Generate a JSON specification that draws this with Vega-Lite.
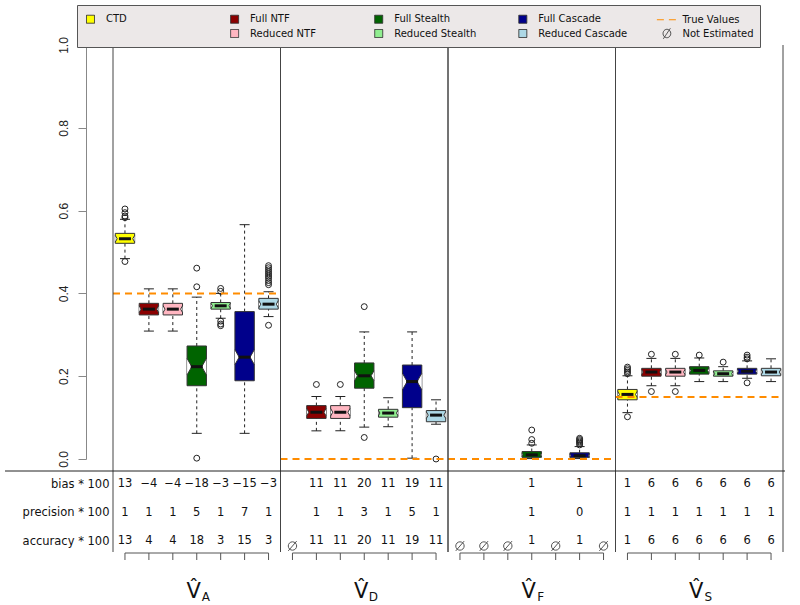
{
"$schema": "https://vega.github.io/schema/vega-lite/v6.json",
"width": 714,
"height": 605,
"autosize": "none",
"padding": {"left": 86, "top": 0, "right": 0, "bottom": 0},
"config": {"view": {"stroke": null}, "font": "DejaVu Sans"},
"datasets": {
"legend": [{"method": "CTD"}, {"method": "Full NTF"}, {"method": "Full Stealth"}, {"method": "Full Cascade"}, {"method": "True Values"}, {"method": " "}, {"method": "Reduced NTF"}, {"method": "Reduced Stealth"}, {"method": "Reduced Cascade"}, {"method": "Not Estimated"}],
"boxes": [
{"key": "A CTD", "method": "CTD", "lo": 0.484, "q1": 0.521, "med": 0.532, "q3": 0.545, "hi": 0.579, "notch": 0.008},
{"key": "A Full NTF", "method": "Full NTF", "lo": 0.309, "q1": 0.348, "med": 0.362, "q3": 0.376, "hi": 0.411, "notch": 0.008},
{"key": "A Reduced NTF", "method": "Reduced NTF", "lo": 0.309, "q1": 0.348, "med": 0.362, "q3": 0.376, "hi": 0.411, "notch": 0.008},
{"key": "A Full Stealth", "method": "Full Stealth", "lo": 0.062, "q1": 0.177, "med": 0.223, "q3": 0.273, "hi": 0.391, "notch": 0.02},
{"key": "A Reduced Stealth", "method": "Reduced Stealth", "lo": 0.34, "q1": 0.362, "med": 0.37, "q3": 0.378, "hi": 0.4, "notch": 0.006},
{"key": "A Full Cascade", "method": "Full Cascade", "lo": 0.062, "q1": 0.189, "med": 0.246, "q3": 0.356, "hi": 0.566, "notch": 0.018},
{"key": "A Reduced Cascade", "method": "Reduced Cascade", "lo": 0.344, "q1": 0.362, "med": 0.374, "q3": 0.388, "hi": 0.404, "notch": 0.008},
{"key": "D Full NTF", "method": "Full NTF", "lo": 0.068, "q1": 0.098, "med": 0.113, "q3": 0.129, "hi": 0.151, "notch": 0.009},
{"key": "D Reduced NTF", "method": "Reduced NTF", "lo": 0.068, "q1": 0.098, "med": 0.113, "q3": 0.129, "hi": 0.151, "notch": 0.009},
{"key": "D Full Stealth", "method": "Full Stealth", "lo": 0.077, "q1": 0.171, "med": 0.201, "q3": 0.232, "hi": 0.307, "notch": 0.012},
{"key": "D Reduced Stealth", "method": "Reduced Stealth", "lo": 0.078, "q1": 0.101, "med": 0.111, "q3": 0.12, "hi": 0.148, "notch": 0.006},
{"key": "D Full Cascade", "method": "Full Cascade", "lo": 0.002, "q1": 0.124, "med": 0.187, "q3": 0.227, "hi": 0.307, "notch": 0.02},
{"key": "D Reduced Cascade", "method": "Reduced Cascade", "lo": 0.084, "q1": 0.09, "med": 0.106, "q3": 0.117, "hi": 0.143, "notch": 0.008},
{"key": "F Full Stealth", "method": "Full Stealth", "lo": 0.001, "q1": 0.004, "med": 0.01, "q3": 0.018, "hi": 0.034, "notch": 0.004},
{"key": "F Full Cascade", "method": "Full Cascade", "lo": 0.001, "q1": 0.004, "med": 0.008, "q3": 0.015, "hi": 0.03, "notch": 0.004},
{"key": "S CTD", "method": "CTD", "lo": 0.112, "q1": 0.143, "med": 0.156, "q3": 0.168, "hi": 0.201, "notch": 0.007},
{"key": "S Full NTF", "method": "Full NTF", "lo": 0.177, "q1": 0.2, "med": 0.21, "q3": 0.219, "hi": 0.243, "notch": 0.006},
{"key": "S Reduced NTF", "method": "Reduced NTF", "lo": 0.177, "q1": 0.2, "med": 0.21, "q3": 0.219, "hi": 0.243, "notch": 0.006},
{"key": "S Full Stealth", "method": "Full Stealth", "lo": 0.187, "q1": 0.205, "med": 0.214, "q3": 0.223, "hi": 0.244, "notch": 0.006},
{"key": "S Reduced Stealth", "method": "Reduced Stealth", "lo": 0.187, "q1": 0.2, "med": 0.206, "q3": 0.213, "hi": 0.223, "notch": 0.005},
{"key": "S Full Cascade", "method": "Full Cascade", "lo": 0.195, "q1": 0.205, "med": 0.212, "q3": 0.219, "hi": 0.237, "notch": 0.005},
{"key": "S Reduced Cascade", "method": "Reduced Cascade", "lo": 0.187, "q1": 0.201, "med": 0.21, "q3": 0.219, "hi": 0.242, "notch": 0.006}
],
"outliers": [
{"key": "A CTD", "val": 0.604}, {"key": "A CTD", "val": 0.595}, {"key": "A CTD", "val": 0.587}, {"key": "A CTD", "val": 0.583}, {"key": "A CTD", "val": 0.477},
{"key": "A Full Stealth", "val": 0.461}, {"key": "A Full Stealth", "val": 0.416}, {"key": "A Full Stealth", "val": 0.002},
{"key": "A Reduced Stealth", "val": 0.405}, {"key": "A Reduced Stealth", "val": 0.412}, {"key": "A Reduced Stealth", "val": 0.333}, {"key": "A Reduced Stealth", "val": 0.326}, {"key": "A Reduced Stealth", "val": 0.322},
{"key": "A Reduced Cascade", "val": 0.421}, {"key": "A Reduced Cascade", "val": 0.426}, {"key": "A Reduced Cascade", "val": 0.431}, {"key": "A Reduced Cascade", "val": 0.437}, {"key": "A Reduced Cascade", "val": 0.442}, {"key": "A Reduced Cascade", "val": 0.447}, {"key": "A Reduced Cascade", "val": 0.452}, {"key": "A Reduced Cascade", "val": 0.457}, {"key": "A Reduced Cascade", "val": 0.462}, {"key": "A Reduced Cascade", "val": 0.467}, {"key": "A Reduced Cascade", "val": 0.323},
{"key": "D Full NTF", "val": 0.18}, {"key": "D Reduced NTF", "val": 0.18},
{"key": "D Full Stealth", "val": 0.368}, {"key": "D Full Stealth", "val": 0.052},
{"key": "D Reduced Cascade", "val": 0.0},
{"key": "F Full Stealth", "val": 0.038}, {"key": "F Full Stealth", "val": 0.047}, {"key": "F Full Stealth", "val": 0.07},
{"key": "F Full Cascade", "val": 0.034}, {"key": "F Full Cascade", "val": 0.038}, {"key": "F Full Cascade", "val": 0.041}, {"key": "F Full Cascade", "val": 0.044}, {"key": "F Full Cascade", "val": 0.047}, {"key": "F Full Cascade", "val": 0.05},
{"key": "S CTD", "val": 0.206}, {"key": "S CTD", "val": 0.21}, {"key": "S CTD", "val": 0.214}, {"key": "S CTD", "val": 0.218}, {"key": "S CTD", "val": 0.222}, {"key": "S CTD", "val": 0.102},
{"key": "S Full NTF", "val": 0.253}, {"key": "S Full NTF", "val": 0.163},
{"key": "S Reduced NTF", "val": 0.253}, {"key": "S Reduced NTF", "val": 0.163},
{"key": "S Full Stealth", "val": 0.251},
{"key": "S Reduced Stealth", "val": 0.234},
{"key": "S Full Cascade", "val": 0.242}, {"key": "S Full Cascade", "val": 0.246}, {"key": "S Full Cascade", "val": 0.251}, {"key": "S Full Cascade", "val": 0.184}
],
"groups": [
{"v": "A", "first": "A CTD", "mid": "A Full Stealth", "last": "A Reduced Cascade", "truth": 0.4},
{"v": "D", "first": "D CTD", "mid": "D Full Stealth", "last": "D Reduced Cascade", "truth": 0.0},
{"v": "F", "first": "F CTD", "mid": "F Full Stealth", "last": "F Reduced Cascade", "truth": 0.0},
{"v": "S", "first": "S CTD", "mid": "S Full Stealth", "last": "S Reduced Cascade", "truth": 0.15}
],
"table": [
{"key": "A CTD", "stat": "bias * 100", "val": 13}, {"key": "A Full NTF", "stat": "bias * 100", "val": -4}, {"key": "A Reduced NTF", "stat": "bias * 100", "val": -4}, {"key": "A Full Stealth", "stat": "bias * 100", "val": -18}, {"key": "A Reduced Stealth", "stat": "bias * 100", "val": -3}, {"key": "A Full Cascade", "stat": "bias * 100", "val": -15}, {"key": "A Reduced Cascade", "stat": "bias * 100", "val": -3},
{"key": "A CTD", "stat": "precision * 100", "val": 1}, {"key": "A Full NTF", "stat": "precision * 100", "val": 1}, {"key": "A Reduced NTF", "stat": "precision * 100", "val": 1}, {"key": "A Full Stealth", "stat": "precision * 100", "val": 5}, {"key": "A Reduced Stealth", "stat": "precision * 100", "val": 1}, {"key": "A Full Cascade", "stat": "precision * 100", "val": 7}, {"key": "A Reduced Cascade", "stat": "precision * 100", "val": 1},
{"key": "A CTD", "stat": "accuracy * 100", "val": 13}, {"key": "A Full NTF", "stat": "accuracy * 100", "val": 4}, {"key": "A Reduced NTF", "stat": "accuracy * 100", "val": 4}, {"key": "A Full Stealth", "stat": "accuracy * 100", "val": 18}, {"key": "A Reduced Stealth", "stat": "accuracy * 100", "val": 3}, {"key": "A Full Cascade", "stat": "accuracy * 100", "val": 15}, {"key": "A Reduced Cascade", "stat": "accuracy * 100", "val": 3},
{"key": "D Full NTF", "stat": "bias * 100", "val": 11}, {"key": "D Reduced NTF", "stat": "bias * 100", "val": 11}, {"key": "D Full Stealth", "stat": "bias * 100", "val": 20}, {"key": "D Reduced Stealth", "stat": "bias * 100", "val": 11}, {"key": "D Full Cascade", "stat": "bias * 100", "val": 19}, {"key": "D Reduced Cascade", "stat": "bias * 100", "val": 11},
{"key": "D Full NTF", "stat": "precision * 100", "val": 1}, {"key": "D Reduced NTF", "stat": "precision * 100", "val": 1}, {"key": "D Full Stealth", "stat": "precision * 100", "val": 3}, {"key": "D Reduced Stealth", "stat": "precision * 100", "val": 1}, {"key": "D Full Cascade", "stat": "precision * 100", "val": 5}, {"key": "D Reduced Cascade", "stat": "precision * 100", "val": 1},
{"key": "D Full NTF", "stat": "accuracy * 100", "val": 11}, {"key": "D Reduced NTF", "stat": "accuracy * 100", "val": 11}, {"key": "D Full Stealth", "stat": "accuracy * 100", "val": 20}, {"key": "D Reduced Stealth", "stat": "accuracy * 100", "val": 11}, {"key": "D Full Cascade", "stat": "accuracy * 100", "val": 19}, {"key": "D Reduced Cascade", "stat": "accuracy * 100", "val": 11},
{"key": "F Full Stealth", "stat": "bias * 100", "val": 1}, {"key": "F Full Cascade", "stat": "bias * 100", "val": 1},
{"key": "F Full Stealth", "stat": "precision * 100", "val": 1}, {"key": "F Full Cascade", "stat": "precision * 100", "val": 0},
{"key": "F Full Stealth", "stat": "accuracy * 100", "val": 1}, {"key": "F Full Cascade", "stat": "accuracy * 100", "val": 1},
{"key": "S CTD", "stat": "bias * 100", "val": 1}, {"key": "S Full NTF", "stat": "bias * 100", "val": 6}, {"key": "S Reduced NTF", "stat": "bias * 100", "val": 6}, {"key": "S Full Stealth", "stat": "bias * 100", "val": 6}, {"key": "S Reduced Stealth", "stat": "bias * 100", "val": 6}, {"key": "S Full Cascade", "stat": "bias * 100", "val": 6}, {"key": "S Reduced Cascade", "stat": "bias * 100", "val": 6},
{"key": "S CTD", "stat": "precision * 100", "val": 1}, {"key": "S Full NTF", "stat": "precision * 100", "val": 1}, {"key": "S Reduced NTF", "stat": "precision * 100", "val": 1}, {"key": "S Full Stealth", "stat": "precision * 100", "val": 1}, {"key": "S Reduced Stealth", "stat": "precision * 100", "val": 1}, {"key": "S Full Cascade", "stat": "precision * 100", "val": 1}, {"key": "S Reduced Cascade", "stat": "precision * 100", "val": 1},
{"key": "S CTD", "stat": "accuracy * 100", "val": 1}, {"key": "S Full NTF", "stat": "accuracy * 100", "val": 6}, {"key": "S Reduced NTF", "stat": "accuracy * 100", "val": 6}, {"key": "S Full Stealth", "stat": "accuracy * 100", "val": 6}, {"key": "S Reduced Stealth", "stat": "accuracy * 100", "val": 6}, {"key": "S Full Cascade", "stat": "accuracy * 100", "val": 6}, {"key": "S Reduced Cascade", "stat": "accuracy * 100", "val": 6}
],
"ne": [{"key": "D CTD"}, {"key": "F CTD"}, {"key": "F Full NTF"}, {"key": "F Reduced NTF"}, {"key": "F Reduced Stealth"}, {"key": "F Reduced Cascade"}]
},
"resolve": {"scale": {"y": "independent"}},
"layer": [
{
"data": {"name": "legend"},
"transform": [{"filter": "false"}],
"mark": {"type": "point", "filled": true, "opacity": 1},
"encoding": {
"fill": {"field": "method", "type": "nominal", "scale": {"domain": ["CTD", "Full NTF", "Full Stealth", "Full Cascade", "True Values", " ", "Reduced NTF", "Reduced Stealth", "Reduced Cascade", "Not Estimated"], "range": ["#FFFF00", "#8B0000", "#006400", "#00008B", "transparent", "transparent", "#FFB6C1", "#90EE90", "#ADD8E6", "transparent"]},
"legend": {"orient": "none", "legendX": -9, "legendY": 5, "columns": 5, "direction": "horizontal", "gridAlign": "all", "columnPadding": 27.1, "rowPadding": 0, "symbolSize": 196, "symbolStrokeWidth": 1, "labelFont": "DejaVu Sans", "labelFontSize": 10, "labelOffset": 8, "labelLimit": 300, "labelExpr": "datum.label == 'Not Estimated' ? 'Not Estimated\u00a0\u00a0\u00a0\u00a0\u00a0' : datum.label", "padding": 6, "fillColor": "#ECE8E8", "strokeColor": "#555555", "title": null, "labelColor": "#111111"}},
"stroke": {"field": "method", "type": "nominal", "scale": {"domain": ["CTD", "Full NTF", "Full Stealth", "Full Cascade", "True Values", " ", "Reduced NTF", "Reduced Stealth", "Reduced Cascade", "Not Estimated"], "range": ["#333333", "#333333", "#333333", "#333333", "#FF8C00", "transparent", "#333333", "#333333", "#333333", "#444444"]},
"legend": {"orient": "none", "legendX": -9, "legendY": 5, "columns": 5, "direction": "horizontal", "gridAlign": "all", "columnPadding": 27.1, "rowPadding": 0, "symbolSize": 196, "symbolStrokeWidth": 1, "labelFont": "DejaVu Sans", "labelFontSize": 10, "labelOffset": 8, "labelLimit": 300, "labelExpr": "datum.label == 'Not Estimated' ? 'Not Estimated\u00a0\u00a0\u00a0\u00a0\u00a0' : datum.label", "padding": 6, "fillColor": "#ECE8E8", "strokeColor": "#555555", "title": null, "labelColor": "#111111"}},
"shape": {"field": "method", "type": "nominal", "scale": {"domain": ["CTD", "Full NTF", "Full Stealth", "Full Cascade", "True Values", " ", "Reduced NTF", "Reduced Stealth", "Reduced Cascade", "Not Estimated"], "range": ["M-0.571,-0.571H0.571V0.571H-0.571Z", "M-0.571,-0.571H0.571V0.571H-0.571Z", "M-0.571,-0.571H0.571V0.571H-0.571Z", "M-0.571,-0.571H0.571V0.571H-0.571Z", "M-1.43,0H1.43", "M0,0", "M-0.571,-0.571H0.571V0.571H-0.571Z", "M-0.571,-0.571H0.571V0.571H-0.571Z", "M-0.571,-0.571H0.571V0.571H-0.571Z", "M-0.55,0A0.55,0.6,0,1,1,0.55,0A0.55,0.6,0,1,1,-0.55,0M-0.5,0.75L0.5,-0.75"]},
"legend": {"orient": "none", "legendX": -9, "legendY": 5, "columns": 5, "direction": "horizontal", "gridAlign": "all", "columnPadding": 27.1, "rowPadding": 0, "symbolSize": 196, "symbolStrokeWidth": 1, "labelFont": "DejaVu Sans", "labelFontSize": 10, "labelOffset": 8, "labelLimit": 300, "labelExpr": "datum.label == 'Not Estimated' ? 'Not Estimated\u00a0\u00a0\u00a0\u00a0\u00a0' : datum.label", "padding": 6, "fillColor": "#ECE8E8", "strokeColor": "#555555", "title": null, "labelColor": "#111111"}},
"strokeDash": {"field": "method", "type": "nominal", "scale": {"domain": ["CTD", "Full NTF", "Full Stealth", "Full Cascade", "True Values", " ", "Reduced NTF", "Reduced Stealth", "Reduced Cascade", "Not Estimated"], "range": [[1, 0], [1, 0], [1, 0], [1, 0], [7, 5], [1, 0], [1, 0], [1, 0], [1, 0], [1, 0]]},
"legend": {"orient": "none", "legendX": -9, "legendY": 5, "columns": 5, "direction": "horizontal", "gridAlign": "all", "columnPadding": 27.1, "rowPadding": 0, "symbolSize": 196, "symbolStrokeWidth": 1, "labelFont": "DejaVu Sans", "labelFontSize": 10, "labelOffset": 8, "labelLimit": 300, "labelExpr": "datum.label == 'Not Estimated' ? 'Not Estimated\u00a0\u00a0\u00a0\u00a0\u00a0' : datum.label", "padding": 6, "fillColor": "#ECE8E8", "strokeColor": "#555555", "title": null, "labelColor": "#111111"}}
}
},
{
"data": {"name": "boxes"},
"mark": {"type": "rule", "color": "#222222", "strokeWidth": 1, "strokeDash": [3, 3]},
"encoding": {
"x": {"field": "key", "type": "nominal", "axis": null, "scale": {"domain": ["A CTD", "A Full NTF", "A Reduced NTF", "A Full Stealth", "A Reduced Stealth", "A Full Cascade", "A Reduced Cascade", "D CTD", "D Full NTF", "D Reduced NTF", "D Full Stealth", "D Reduced Stealth", "D Full Cascade", "D Reduced Cascade", "F CTD", "F Full NTF", "F Reduced NTF", "F Full Stealth", "F Reduced Stealth", "F Full Cascade", "F Reduced Cascade", "S CTD", "S Full NTF", "S Reduced NTF", "S Full Stealth", "S Reduced Stealth", "S Full Cascade", "S Reduced Cascade"], "range": [27, 697], "paddingInner": 0, "paddingOuter": 0}},
"y": {"field": "q3", "type": "quantitative", "scale": {"domain": [0, 1], "range": [459, 45], "nice": false, "zero": false},
"axis": {"orient": "left", "values": [0, 0.2, 0.4, 0.6, 0.8, 1], "format": ".1f", "labelAngle": 270, "labelAlign": "center", "labelBaseline": "alphabetic", "labelPadding": 11, "tickSize": 8, "grid": false, "title": null, "domainColor": "#888888", "tickColor": "#888888", "labelColor": "#222222", "labelFont": "Liberation Sans", "labelFontSize": 12, "labelFlush": false, "labelOverlap": false}},
"y2": {"field": "hi"}
}
},
{
"data": {"name": "boxes"},
"mark": {"type": "rule", "color": "#222222", "strokeWidth": 1, "strokeDash": [3, 3]},
"encoding": {"x": {"field": "key", "type": "nominal", "axis": null}, "y": {"field": "lo", "type": "quantitative", "axis": null, "scale": {"domain": [0, 1], "range": [459, 45], "nice": false, "zero": false}}, "y2": {"field": "q1"}}
},
{
"data": {"name": "boxes"},
"mark": {"type": "tick", "color": "#222222", "size": 10, "thickness": 1, "opacity": 1},
"encoding": {"x": {"field": "key", "type": "nominal", "axis": null}, "y": {"field": "hi", "type": "quantitative", "axis": null, "scale": {"domain": [0, 1], "range": [459, 45], "nice": false, "zero": false}}}
},
{
"data": {"name": "boxes"},
"mark": {"type": "tick", "color": "#222222", "size": 10, "thickness": 1, "opacity": 1},
"encoding": {"x": {"field": "key", "type": "nominal", "axis": null}, "y": {"field": "lo", "type": "quantitative", "axis": null, "scale": {"domain": [0, 1], "range": [459, 45], "nice": false, "zero": false}}}
},
{
"data": {"name": "boxes"},
"mark": {"type": "bar", "width": {"band": 0.81}, "stroke": "#333333", "strokeWidth": 1, "opacity": 1},
"encoding": {"x": {"field": "key", "type": "nominal", "axis": null}, "y": {"field": "q1", "type": "quantitative", "axis": null, "scale": {"domain": [0, 1], "range": [459, 45], "nice": false, "zero": false}}, "y2": {"field": "q3"}, "fill": {"field": "method", "type": "nominal", "legend": null}}
},
{
"data": {"name": "boxes"},
"mark": {"type": "point", "shape": "M0,-1L0.57,0L0,1", "fill": "white", "stroke": "#333333", "strokeWidth": 1, "opacity": 1, "xOffset": -9.69},
"encoding": {"x": {"field": "key", "type": "nominal", "axis": null}, "y": {"field": "med", "type": "quantitative", "axis": null, "scale": {"domain": [0, 1], "range": [459, 45], "nice": false, "zero": false}}, "size": {"field": "notch", "type": "quantitative", "scale": {"type": "pow", "exponent": 2, "domain": [0, 0.1], "range": [0, 6847.6], "nice": false}, "legend": null}}
},
{
"data": {"name": "boxes"},
"mark": {"type": "point", "shape": "M0,-1L-0.57,0L0,1", "fill": "white", "stroke": "#333333", "strokeWidth": 1, "opacity": 1, "xOffset": 9.69},
"encoding": {"x": {"field": "key", "type": "nominal", "axis": null}, "y": {"field": "med", "type": "quantitative", "axis": null, "scale": {"domain": [0, 1], "range": [459, 45], "nice": false, "zero": false}}, "size": {"field": "notch", "type": "quantitative", "legend": null}}
},
{
"data": {"name": "boxes"},
"mark": {"type": "tick", "color": "#111111", "size": 12, "thickness": 3, "opacity": 1},
"encoding": {"x": {"field": "key", "type": "nominal", "axis": null}, "y": {"field": "med", "type": "quantitative", "axis": null, "scale": {"domain": [0, 1], "range": [459, 45], "nice": false, "zero": false}}}
},
{
"data": {"name": "outliers"},
"mark": {"type": "point", "shape": "circle", "size": 35, "stroke": "#222222", "strokeWidth": 1, "filled": false, "opacity": 1},
"encoding": {"x": {"field": "key", "type": "nominal", "axis": null}, "y": {"field": "val", "type": "quantitative", "axis": null, "scale": {"domain": [0, 1], "range": [459, 45], "nice": false, "zero": false}}}
},
{
"data": {"name": "groups"},
"mark": {"type": "rule", "color": "#FF8C00", "strokeWidth": 2, "strokeDash": [7, 5]},
"encoding": {"x": {"field": "first", "type": "nominal", "bandPosition": 0, "axis": null}, "x2": {"field": "last", "bandPosition": 1}, "y": {"field": "truth", "type": "quantitative", "axis": null, "scale": {"domain": [0, 1], "range": [459, 45], "nice": false, "zero": false}}}
},
{
"data": {"name": "groups"},
"mark": {"type": "rule", "color": "#444444", "strokeWidth": 1, "y2Offset": 93},
"encoding": {"x": {"field": "first", "type": "nominal", "bandPosition": 0, "axis": null}, "y": {"datum": 1, "type": "quantitative", "axis": null, "scale": {"domain": [0, 1], "range": [459, 45], "nice": false, "zero": false}}, "y2": {"datum": 0}}
},
{
"data": {"name": "groups"},
"mark": {"type": "rule", "color": "#444444", "strokeWidth": 1, "y2Offset": 93},
"encoding": {"x": {"field": "last", "type": "nominal", "bandPosition": 1, "axis": null}, "y": {"datum": 1, "type": "quantitative", "axis": null, "scale": {"domain": [0, 1], "range": [459, 45], "nice": false, "zero": false}}, "y2": {"datum": 0}}
},
{
"data": {"name": "table"},
"mark": {"type": "text", "fontSize": 11.5, "font": "DejaVu Sans", "color": "#111111"},
"encoding": {
"x": {"field": "key", "type": "nominal", "axis": null},
"y": {"field": "stat", "type": "nominal", "scale": {"type": "point", "domain": ["bias * 100", "precision * 100", "accuracy * 100"], "range": [484, 541], "padding": 0},
"axis": {"orient": "left", "offset": -24, "ticks": false, "tickSize": 0, "domain": false, "labelPadding": 1, "labelFont": "DejaVu Sans", "labelFontSize": 11.5, "labelColor": "#111111", "title": null, "grid": false, "labelAlign": "right"}},
"text": {"field": "val", "type": "quantitative", "format": "d"}
}
},
{
"data": {"name": "ne"},
"mark": {"type": "point", "shape": "M-0.6,0A0.6,0.6,0,1,1,0.6,0A0.6,0.6,0,1,1,-0.6,0M-0.6,0.7L0.6,-0.7", "size": 196, "stroke": "#555555", "strokeWidth": 1, "filled": false, "opacity": 1, "yOffset": 5},
"encoding": {"x": {"field": "key", "type": "nominal", "axis": null}, "y": {"datum": "accuracy * 100", "type": "nominal", "axis": null, "scale": {"type": "point", "domain": ["bias * 100", "precision * 100", "accuracy * 100"], "range": [484, 541], "padding": 0}}}
},
{
"data": {"name": "groups"},
"mark": {"type": "rule", "color": "#555555", "strokeWidth": 1, "yOffset": 12},
"encoding": {"x": {"field": "first", "type": "nominal", "axis": null}, "x2": {"field": "last"}, "y": {"datum": "accuracy * 100", "type": "nominal", "axis": null, "scale": {"type": "point", "domain": ["bias * 100", "precision * 100", "accuracy * 100"], "range": [484, 541], "padding": 0}}}
},
{
"data": {"name": "boxes"},
"mark": {"type": "rule", "color": "#555555", "strokeWidth": 1, "yOffset": 12, "y2Offset": 19},
"encoding": {"x": {"field": "key", "type": "nominal", "axis": null}, "y": {"datum": "accuracy * 100", "type": "nominal", "axis": null, "scale": {"type": "point", "domain": ["bias * 100", "precision * 100", "accuracy * 100"], "range": [484, 541], "padding": 0}}, "y2": {"datum": "accuracy * 100"}}
},
{
"data": {"name": "ne"},
"mark": {"type": "rule", "color": "#555555", "strokeWidth": 1, "yOffset": 12, "y2Offset": 19},
"encoding": {"x": {"field": "key", "type": "nominal", "axis": null}, "y": {"datum": "accuracy * 100", "type": "nominal", "axis": null, "scale": {"type": "point", "domain": ["bias * 100", "precision * 100", "accuracy * 100"], "range": [484, 541], "padding": 0}}, "y2": {"datum": "accuracy * 100"}}
},
{
"data": {"name": "groups"},
"mark": {"type": "text", "text": "V\u0302", "font": "DejaVu Sans", "fontSize": 21, "baseline": "alphabetic", "yOffset": 57, "dx": -3, "color": "#111111"},
"encoding": {"x": {"field": "mid", "type": "nominal", "axis": null}, "y": {"datum": "accuracy * 100", "type": "nominal", "axis": null, "scale": {"type": "point", "domain": ["bias * 100", "precision * 100", "accuracy * 100"], "range": [484, 541], "padding": 0}}}
},
{
"data": {"name": "groups"},
"mark": {"type": "text", "font": "DejaVu Sans", "fontSize": 12, "baseline": "alphabetic", "yOffset": 59.5, "dx": 9, "color": "#111111"},
"encoding": {"x": {"field": "mid", "type": "nominal", "axis": null}, "y": {"datum": "accuracy * 100", "type": "nominal", "axis": null, "scale": {"type": "point", "domain": ["bias * 100", "precision * 100", "accuracy * 100"], "range": [484, 541], "padding": 0}}, "text": {"field": "v"}}
},
{
"data": {"name": "groups"},
"transform": [{"filter": "datum.v == 'A'"}],
"mark": {"type": "rule", "color": "#222222", "strokeWidth": 1, "yOffset": -13, "xOffset": -108, "x2Offset": 2},
"encoding": {"x": {"datum": "A CTD", "type": "nominal", "bandPosition": 0, "axis": null}, "x2": {"datum": "S Reduced Cascade", "bandPosition": 1}, "y": {"datum": "bias * 100", "type": "nominal", "axis": null, "scale": {"type": "point", "domain": ["bias * 100", "precision * 100", "accuracy * 100"], "range": [484, 541], "padding": 0}}}
}
]
}
